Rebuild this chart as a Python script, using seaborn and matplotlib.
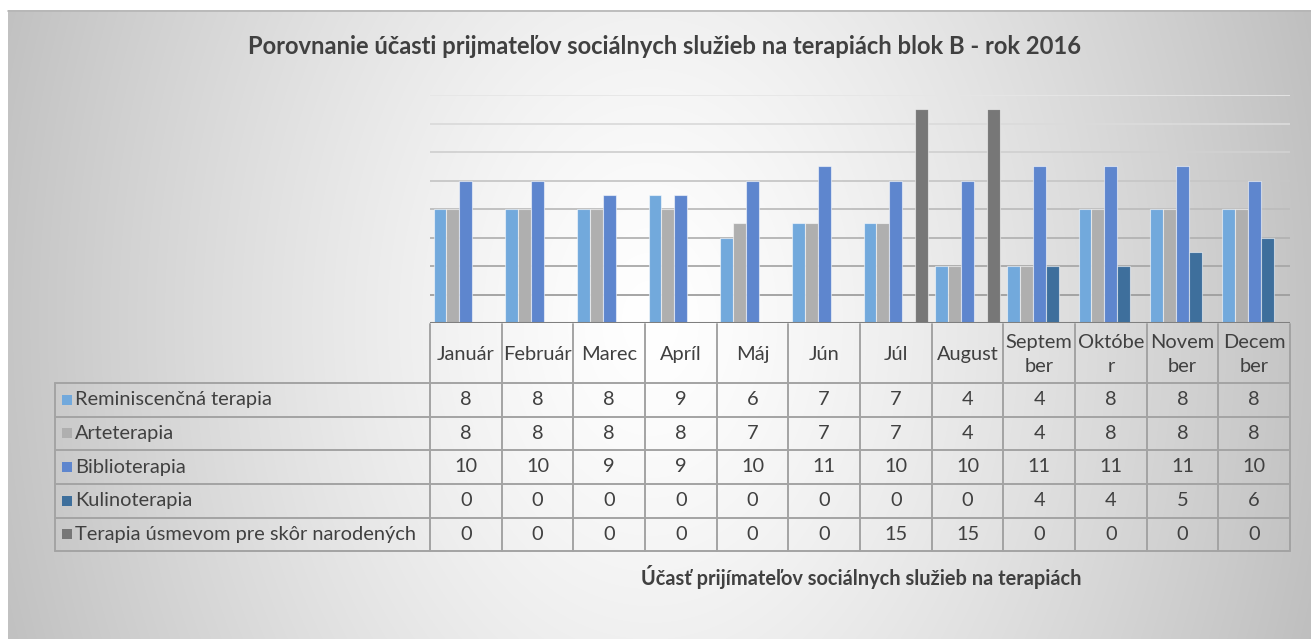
import numpy as np
import pandas as pd
import matplotlib
matplotlib.use("Agg")
import matplotlib.pyplot as plt
from matplotlib.patches import Rectangle
import seaborn as sns

# ---- data -------------------------------------------------------------
months = ["Január", "Február", "Marec", "Apríl", "Máj", "Jún", "Júl",
          "August", "September", "Október", "November", "December"]
month_labels = ["Január", "Február", "Marec", "Apríl", "Máj", "Jún", "Júl",
                "August", "Septem\nber", "Októbe\nr", "Novem\nber", "Decem\nber"]
series_names = ["Reminiscenčná terapia", "Arteterapia", "Biblioterapia",
                "Kulinoterapia", "Terapia úsmevom pre skôr narodených"]
reminiscencna = [8, 8, 8, 9, 6, 7, 7, 4, 4, 8, 8, 8]
arteterapia = [8, 8, 8, 8, 7, 7, 7, 4, 4, 8, 8, 8]
biblioterapia = [10, 10, 9, 9, 10, 11, 10, 10, 11, 11, 11, 10]
kulinoterapia = [0, 0, 0, 0, 0, 0, 0, 0, 4, 4, 5, 6]
usmev = [0, 0, 0, 0, 0, 0, 15, 15, 0, 0, 0, 0]
title = "Porovnanie účasti prijmateľov sociálnych služieb na terapiách blok B - rok 2016"
axis_title = "Účasť prijímateľov sociálnych služieb na terapiách"

values = [reminiscencna, arteterapia, biblioterapia, kulinoterapia, usmev]
colors = ["#72A9DC", "#AFAFAF", "#5E86CE", "#3E6F9C", "#777777"]

df = pd.DataFrame({
    "mesiac": np.tile(months, len(series_names)),
    "terapia": np.repeat(series_names, len(months)),
    "pocet": np.concatenate(values),
})

# ---- figure -----------------------------------------------------------
W, H = 1311, 639
sns.set_theme(style="white")
plt.rcParams["font.family"] = ["Lato", "DejaVu Sans"]
fig = plt.figure(figsize=(W / 100, H / 100), dpi=100, facecolor="white")

def fx(x):
    return x / W

def fy(y):
    return 1 - y / H

# background with a soft radial gradient
bg = fig.add_axes([0, 0, 1, 1], zorder=0)
bg.set_xlim(0, W)
bg.set_ylim(H, 0)
bg.axis("off")
gx, gy = np.meshgrid(np.arange(8, W), np.arange(10, H))
r = np.sqrt(((gx - 650) / 680.0) ** 2 + ((gy - 320) / 950.0) ** 2)
shade = np.clip(255 - 62 * r ** 1.3, 188, 255) / 255.0
bg.imshow(np.dstack([shade, shade, shade]), extent=(8, W, H, 10),
          aspect="auto", interpolation="bilinear")
bg.plot([8, W], [10.5, 10.5], color="#b5b5b5", lw=1.2)

# plot area
left, right, top, bottom = 430, 1290, 95, 323
ax = fig.add_axes([fx(left), fy(bottom), fx(right - left), (bottom - top) / H],
                  zorder=1)
ax.set_facecolor("none")
sns.barplot(data=df, x="mesiac", y="pocet", hue="terapia", order=months,
            hue_order=series_names, palette=colors, saturation=1, width=0.9,
            gap=0, legend=False, ax=ax, zorder=3,
            edgecolor=(1, 1, 1, 0.55), linewidth=0.8)
ax.set_ylim(0, 16)
ax.set_xlim(-0.5, len(months) - 0.5)
for v in range(2, 17, 2):
    g = 0.62 + (v - 2) / 14 * 0.28
    ax.axhline(v, color=(g, g, g), lw=1.3, zorder=1)
ax.axhline(0, color="#7f7f7f", lw=2.2, zorder=4)
ax.set_xticks([])
ax.set_yticks([])
ax.set_xlabel("")
ax.set_ylabel("")
for s in ax.spines.values():
    s.set_visible(False)

# data table below the plot area
tb = fig.add_axes([0, 0, 1, 1], zorder=2)
tb.set_xlim(0, W)
tb.set_ylim(H, 0)
tb.axis("off")
tb.set_facecolor("none")

grid_c = "#a3a3a3"
txt_c = "#404040"
col_x = np.linspace(left, right, len(months) + 1)
row_y = [323, 383, 416.5, 450, 484, 517.5, 551]
legend_left = 55

for x in col_x:
    tb.plot([x, x], [row_y[0] + 1, row_y[-1]], color=grid_c, lw=1.4)
tb.plot([legend_left, legend_left], [row_y[1], row_y[-1]], color=grid_c, lw=1.4)
for y in row_y[1:]:
    tb.plot([legend_left, right], [y, y], color=grid_c, lw=1.4)

fs = 14.4
for i, lab in enumerate(month_labels):
    cx = (col_x[i] + col_x[i + 1]) / 2
    tb.text(cx, (row_y[0] + row_y[1]) / 2 + 1.5, lab, ha="center", va="center",
            fontsize=fs, color=txt_c, linespacing=1.5)

for j, (name, vals, c) in enumerate(zip(series_names, values, colors)):
    cy = (row_y[j + 1] + row_y[j + 2]) / 2
    tb.add_patch(Rectangle((62, cy - 5), 10, 10, facecolor=c, edgecolor="none"))
    tb.text(75, cy, name, ha="left", va="center", fontsize=fs, color=txt_c)
    for i, v in enumerate(vals):
        cx = (col_x[i] + col_x[i + 1]) / 2
        tb.text(cx, cy, str(v), ha="center", va="center", fontsize=fs,
                color=txt_c)

# titles
tb.text(665, 47, title, ha="center", va="center", fontsize=17.1,
        fontweight="bold", color=txt_c)
tb.text(861, 577, axis_title, ha="center", va="center", fontsize=14.4,
        fontweight="bold", color=txt_c)

fig.savefig("out.png", dpi=100, facecolor="white")
